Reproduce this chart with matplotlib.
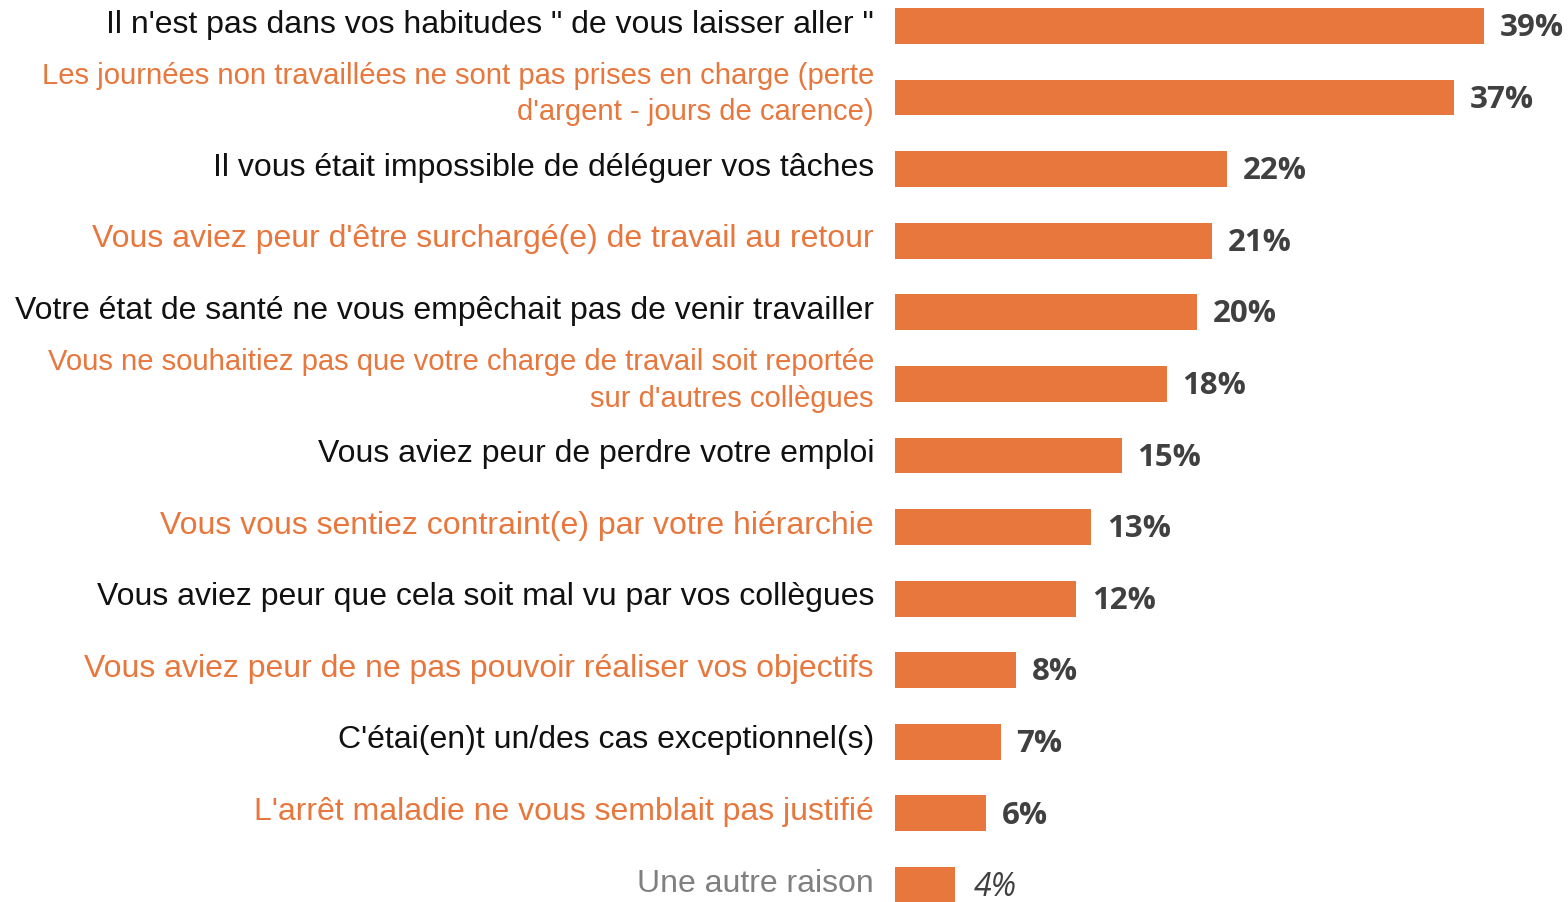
import matplotlib
matplotlib.use('Agg')
import matplotlib.pyplot as plt

# raisons de venir travailler malgré la maladie (%)
raisons = [
    "Il n'est pas dans vos habitudes \" de vous laisser aller \"",
    "Les journées non travaillées ne sont pas prises en charge (perte\nd'argent - jours de carence)",
    "Il vous était impossible de déléguer vos tâches",
    "Vous aviez peur d'être surchargé(e) de travail au retour",
    "Votre état de santé ne vous empêchait pas de venir travailler",
    "Vous ne souhaitiez pas que votre charge de travail soit reportée\nsur d'autres collègues",
    "Vous aviez peur de perdre votre emploi",
    "Vous vous sentiez contraint(e) par votre hiérarchie",
    "Vous aviez peur que cela soit mal vu par vos collègues",
    "Vous aviez peur de ne pas pouvoir réaliser vos objectifs",
    "C'étai(en)t un/des cas exceptionnel(s)",
    "L'arrêt maladie ne vous semblait pas justifié",
    "Une autre raison",
]
pourcentages = [39, 37, 22, 21, 20, 18, 15, 13, 12, 8, 7, 6, 4]

orange = '#E8773D'
noir = '#111111'
gris = '#808080'

fig = plt.figure(figsize=(15.68, 9.02), dpi=100)
ax = fig.add_axes([895 / 1568, 0, 1 - 895 / 1568, 1])

y = list(range(len(raisons)))
ax.barh(y, pourcentages, height=0.5, color=orange)
ax.set_xlim(0, (1568 - 895) / 15.1)
ax.set_ylim((902 - 26) / 71.58, -26 / 71.58)
ax.axis('off')

for i, (txt, val) in enumerate(zip(raisons, pourcentages)):
    if i == len(raisons) - 1:
        couleur = gris
    elif i % 2 == 0:
        couleur = noir
    else:
        couleur = orange
    if '\n' in txt:
        # libellés sur deux lignes, un peu plus serrés
        ax.text(-21 / 15.1, i - 0.05, txt, ha='right', va='center', color=couleur,
                fontsize=21.1, family='Liberation Sans', linespacing=1.38)
    else:
        ax.text(-21 / 15.1, i - 0.02, txt, ha='right', va='center', color=couleur,
                fontsize=23, family='Liberation Sans')
    if i == len(raisons) - 1:
        ax.text(val + 1.2, i + 0.03, f"{val}%", ha='left', va='center',
                color='#404040', fontsize=23, family='Open Sans', style='italic')
    else:
        ax.text(val + 1.05, i + 0.03, f"{val}%", ha='left', va='center',
                color='#404040', fontsize=22.5, family='Open Sans', weight='bold')

plt.savefig('out.png', dpi=100)
